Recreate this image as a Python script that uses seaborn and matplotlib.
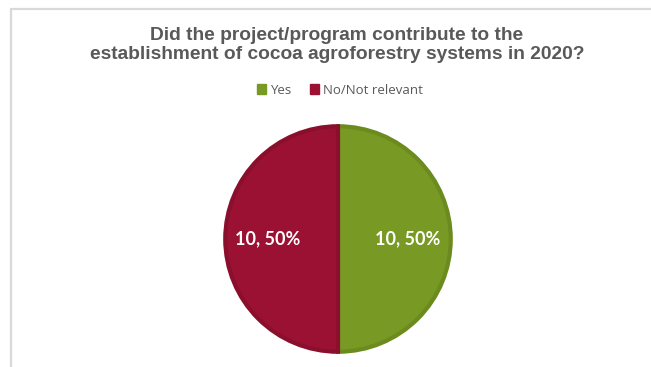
import matplotlib
matplotlib.use("Agg")
import matplotlib.pyplot as plt
from matplotlib.patches import Patch
from matplotlib.lines import Line2D
import seaborn as sns

sns.set_theme(style="white")

categories = ["Yes", "No/Not relevant"]
counts = [10, 10]
fill_colors = ["#789A24", "#9B1133"]
edge_colors = ["#6B8B1E", "#8A0F2D"]
title_text = "Did the project/program contribute to the\nestablishment of cocoa agroforestry systems in 2020?"

W, H = 651, 367
fig = plt.figure(figsize=(W / 100, H / 100), dpi=100)
fig.patch.set_facecolor("white")

# chart-area frame (top and left edges visible)
frame_col = "#D9D9D9"
fig.add_artist(Line2D([10.5 / W, 1.0], [1 - 8.5 / H, 1 - 8.5 / H], color=frame_col, lw=1.6))
fig.add_artist(Line2D([10.5 / W, 10.5 / W], [1 - 8.5 / H, 0.0], color=frame_col, lw=1.6))

# pie axes
cx, cy, r = 338, 239, 115
ax = fig.add_axes([(cx - r) / W, (H - cy - r) / H, 2 * r / W, 2 * r / H])
total = sum(counts)


def fmt(pct):
    val = int(round(pct * total / 100.0))
    return f"{val}, {pct:.0f}%"


wedges, texts, autotexts = ax.pie(
    counts,
    colors=fill_colors,
    startangle=90,
    counterclock=False,
    autopct=fmt,
    pctdistance=0.62,
    radius=1.0,
    wedgeprops=dict(linewidth=3.0),
    textprops=dict(color="white", fontsize=13, fontweight="bold", family="Lato"),
)
for w, ec in zip(wedges, edge_colors):
    w.set_edgecolor(ec)
ax.set_xlim(-1.02, 1.02)
ax.set_ylim(-1.02, 1.02)
ax.set_aspect("equal")
ax.axis("off")

# title
fig.text(337 / W, 1 - 45 / H, title_text, ha="center", va="center",
         fontsize=13.8, fontweight="bold", color="#595959",
         family="Liberation Sans", linespacing=1.2)

# legend
handles = [Patch(facecolor=c, edgecolor=c) for c in fill_colors]
leg = fig.legend(handles, categories, loc="center", ncol=2,
                 bbox_to_anchor=(340 / W, 1 - 90 / H), frameon=False,
                 handlelength=0.7, handleheight=0.7, handletextpad=0.3,
                 columnspacing=1.4, prop=dict(family="Open Sans", size=9.5))
for t in leg.get_texts():
    t.set_color("#595959")

fig.savefig("out.png", dpi=100, facecolor="white")
